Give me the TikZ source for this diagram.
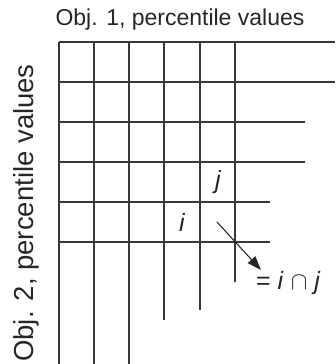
\documentclass[tikz,border=0pt]{standalone}
\usepackage{fontspec}
\setmainfont{Liberation Sans}
\usetikzlibrary{arrows.meta}
\begin{document}
\begin{tikzpicture}[x=1pt,y=-1pt,
  grid/.style={draw=black!78,line width=2.2pt},
  lbl/.style={text=black!85,inner sep=0pt,font=\fontsize{23}{26}\selectfont},
  ylbl/.style={text=black!85,inner sep=0pt,font=\fontsize{27.5}{30}\selectfont},
  var/.style={text=black!85,inner sep=0pt,font=\fontsize{25}{28}\selectfont\itshape},
  res/.style={text=black!85,inner sep=0pt,font=\fontsize{25}{28}\selectfont}]
\useasboundingbox (0,0) rectangle (335,364);
% horizontal lines
\draw[grid] (59,42) -- (335,42);
\draw[grid] (59,82) -- (335,82);
\draw[grid] (59,122) -- (305,122);
\draw[grid] (59,162) -- (305,162);
\draw[grid] (59,202) -- (270,202);
\draw[grid] (59,242) -- (270,242);
% vertical lines
\draw[grid] (59,42) -- (59,364);
\draw[grid] (94,42) -- (94,364);
\draw[grid] (129,42) -- (129,364);
\draw[grid] (164,42) -- (164,320);
\draw[grid] (200,42) -- (200,310);
\draw[grid] (235,42) -- (235,282);
% labels
\node[lbl] (title) at (180,20) {Obj. 1, percentile values};
\node[ylbl,rotate=90] (ylab) at (26,213) {Obj. 2, percentile values};
\node[var] (j) at (218,182) {j};
\node[var] (i) at (182,222) {i};
\node[res,anchor=west] (res) at (256,283) {= \textit{i} $\cap$ \textit{j}};
\coordinate (astart) at (217,222);
\coordinate (aend) at (261,270);
\draw[black!85,line width=1.1pt,-{Triangle[length=14pt,width=10pt]}] (astart) -- (aend);
\end{tikzpicture}
\end{document}
